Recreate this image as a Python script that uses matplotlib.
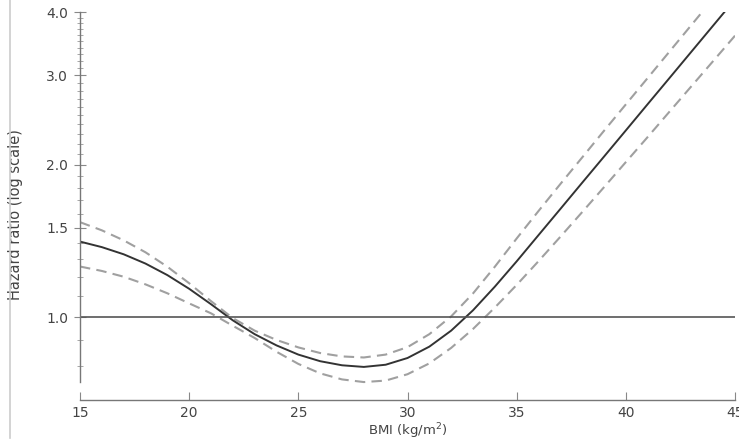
import numpy as np
import matplotlib
matplotlib.use("Agg")
import matplotlib.pyplot as plt
from matplotlib.lines import Line2D
from matplotlib.ticker import FixedLocator, FixedFormatter, NullFormatter

# BMI grid and hazard ratios
bmi = list(range(15, 46))
hr = [1.410, 1.375, 1.331, 1.276, 1.211, 1.138, 1.061, 0.986, 0.926, 0.880,
      0.844, 0.819, 0.804, 0.798, 0.806, 0.831, 0.875, 0.941, 1.032, 1.149,
      1.289, 1.452, 1.635, 1.842, 2.074, 2.336, 2.632, 2.964, 3.339, 3.761, 4.236]
ci_upper = [1.540, 1.484, 1.418, 1.343, 1.258, 1.167, 1.076, 0.996, 0.941, 0.902,
            0.872, 0.850, 0.837, 0.833, 0.844, 0.873, 0.926, 1.004, 1.114, 1.258,
            1.430, 1.620, 1.831, 2.066, 2.332, 2.629, 2.964, 3.342, 3.769, 4.249, 4.790]
ci_lower = [1.259, 1.234, 1.202, 1.161, 1.115, 1.065, 1.018, 0.962, 0.910, 0.855,
            0.809, 0.775, 0.754, 0.745, 0.750, 0.772, 0.811, 0.870, 0.948, 1.045,
            1.158, 1.290, 1.441, 1.612, 1.805, 2.023, 2.267, 2.544, 2.854, 3.201, 3.592]

y_major = [1.0, 1.5, 2.0, 3.0, 4.0]
y_minor = [0.8, 0.9, 1.1, 1.2, 1.3, 1.4, 1.6, 1.7, 1.8, 1.9,
           2.1, 2.2, 2.3, 2.4, 2.5, 2.6, 2.7, 2.8, 2.9,
           3.1, 3.2, 3.3, 3.4, 3.5, 3.6, 3.7, 3.8, 3.9]
x_ticks = [15, 20, 25, 30, 35, 40, 45]

fig = plt.figure(figsize=(7.39, 4.41), dpi=100)
ax = fig.add_axes([80 / 739, 1 - 400 / 441, 655 / 739, 388 / 441])

ax.plot(bmi, ci_upper, color='#a0a0a0', lw=1.5, ls=(0, (5, 3)))
ax.plot(bmi, ci_lower, color='#a0a0a0', lw=1.5, ls=(0, (5, 3)))
ax.plot(bmi, hr, color='#333333', lw=1.4)
ax.axhline(1.0, color='#555555', lw=1.2)

ax.set_yscale('log')
ax.set_xlim(15, 45)
ax.set_ylim(0.6867, 4.0)

ax.yaxis.set_major_locator(FixedLocator(y_major))
ax.yaxis.set_major_formatter(FixedFormatter(['%.1f' % v for v in y_major]))
ax.yaxis.set_minor_locator(FixedLocator(y_minor))
ax.yaxis.set_minor_formatter(NullFormatter())
ax.set_xticks(x_ticks)

for s in ['top', 'right']:
    ax.spines[s].set_visible(False)
for s in ['left', 'bottom']:
    ax.spines[s].set_color('#777777')
    ax.spines[s].set_linewidth(1.0)
ax.spines['left'].set_bounds(0.745, 4.0)

ax.tick_params(axis='y', which='major', direction='inout', length=9, width=0.8,
               color='#888888', labelsize=10, labelcolor='#444444', pad=4)
ax.tick_params(axis='y', which='minor', direction='inout', length=4, width=0.6,
               color='#999999')
ax.tick_params(axis='x', which='major', direction='in', length=6, width=0.8,
               color='#888888', labelsize=10, labelcolor='#444444', pad=4)

ax.set_xlabel('BMI (kg/m$^2$)', fontsize=9.5, color='#444444', labelpad=1)
ax.set_ylabel('Hazard ratio (log scale)', fontsize=10.5, color='#444444')
ax.yaxis.set_label_coords(-57 / 655, 185 / 388)

fig.add_artist(Line2D([10 / 739, 10 / 739], [3 / 441, 1], color='#cccccc', lw=1.2))

fig.savefig('out.png', dpi=100)
